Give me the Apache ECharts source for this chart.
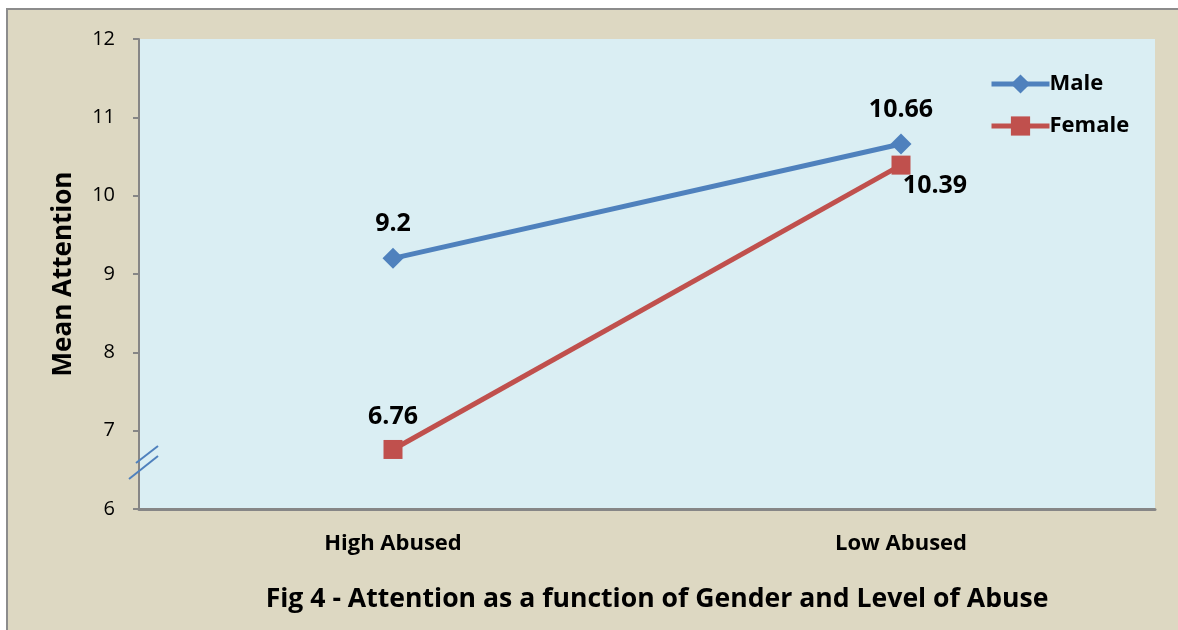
<!DOCTYPE html>
<html>
<head>
<meta charset="utf-8">
<script src="https://cdn.jsdelivr.net/npm/echarts@6/dist/echarts.min.js"></script>
<style>
  html, body { margin: 0; padding: 0; background: #ffffff; }
  #chart { width: 1178px; height: 630px; }
</style>
</head>
<body>
<div id="chart"></div>
<script>
// Abuse level groups on the x axis
const categories = ['High Abused', 'Low Abused'];
// Mean attention scores by gender
const maleValues = [9.2, 10.66];
const femaleValues = [6.76, 10.39];
// Y axis range and step
const yMin = 6;
const yMax = 12;
const yStep = 1;

const FONT = '"Open Sans", Lato, sans-serif';
const blue = '#4F81BD';
const red = '#C0504D';

const chart = echarts.init(document.getElementById('chart'));

const labelStyle = {
  show: true,
  position: 'top',
  distance: 11,
  fontFamily: FONT,
  fontWeight: 'bold',
  fontSize: 25,
  color: '#000000'
};

const femaleData = femaleValues.map((v, i) => (
  i === 1
    ? { value: v, label: { position: 'bottom', distance: -1, offset: [34, 0] } }
    : { value: v }
));

chart.setOption({
  backgroundColor: '#ffffff',
  animation: false,
  graphic: [{
    id: 'frame',
    type: 'rect',
    z: -10,
    silent: true,
    shape: { x: 7, y: 9, width: 1180, height: 630 },
    style: { fill: '#DDD8C2', stroke: '#8C8C8C', lineWidth: 2 }
  }, {
    id: 'caption',
    type: 'text',
    x: 657,
    y: 599,
    silent: true,
    style: {
      text: 'Fig 4 - Attention as a function of Gender and Level of Abuse',
      fontFamily: FONT,
      fontWeight: 'bold',
      fontSize: 26.6,
      fill: '#000000',
      align: 'center',
      verticalAlign: 'middle'
    }
  }],
  grid: {
    left: 139, right: 23, top: 39, bottom: 121,
    show: true,
    backgroundColor: '#DAEEF3',
    borderWidth: 0
  },
  legend: {
    orient: 'vertical',
    left: 984,
    top: 68,
    itemWidth: 58,
    itemHeight: 24,
    itemGap: 20,
    lineStyle: { width: 5 },
    textStyle: { fontFamily: FONT, fontWeight: 'bold', fontSize: 22, color: '#000000', padding: [0, 0, 0, -5] },
    data: ['Male', 'Female']
  },
  xAxis: {
    type: 'category',
    data: categories,
    boundaryGap: true,
    axisLine: { lineStyle: { color: '#868686', width: 3 } },
    axisTick: { show: false },
    axisLabel: { fontFamily: FONT, fontWeight: 'bold', fontSize: 22, color: '#000000', margin: 24 },
    splitLine: { show: false }
  },
  yAxis: {
    type: 'value',
    min: yMin,
    max: yMax,
    interval: yStep,
    name: 'Mean Attention',
    nameLocation: 'middle',
    nameGap: 62,
    nameTextStyle: { fontFamily: FONT, fontWeight: 'bold', fontSize: 26, color: '#000000' },
    axisLine: { show: true, lineStyle: { color: '#868686', width: 2 } },
    axisTick: { show: true, length: 6, lineStyle: { color: '#868686', width: 2 } },
    axisLabel: { fontFamily: FONT, fontSize: 20, color: '#000000', margin: 24 },
    splitLine: { show: false }
  },
  series: [{
    name: 'Male',
    type: 'line',
    data: maleValues,
    symbol: 'diamond',
    symbolSize: 21,
    lineStyle: { color: blue, width: 5 },
    itemStyle: { color: blue },
    label: labelStyle
  }, {
    name: 'Female',
    type: 'line',
    data: femaleData,
    symbol: 'rect',
    symbolSize: 19,
    lineStyle: { color: red, width: 5 },
    itemStyle: { color: red },
    label: labelStyle
  }]
});

// Axis break marks drawn across the y axis just above the minimum
const breakValue = yMin + 0.6;
const p0 = chart.convertToPixel({ gridIndex: 0 }, [0, breakValue]);
const p1 = chart.convertToPixel({ gridIndex: 0 }, [1, breakValue]);
const axisX = p0[0] - (p1[0] - p0[0]) / 2;
const by = p0[1];
chart.setOption({
  graphic: [{
    id: 'break-a', type: 'line', silent: true, z: 100,
    shape: { x1: axisX - 3, y1: by + 1, x2: axisX + 19, y2: by - 16 },
    style: { stroke: blue, lineWidth: 2 }
  }, {
    id: 'break-b', type: 'line', silent: true, z: 100,
    shape: { x1: axisX - 10, y1: by + 17, x2: axisX + 19, y2: by - 6 },
    style: { stroke: blue, lineWidth: 2 }
  }]
});
</script>
</body>
</html>
